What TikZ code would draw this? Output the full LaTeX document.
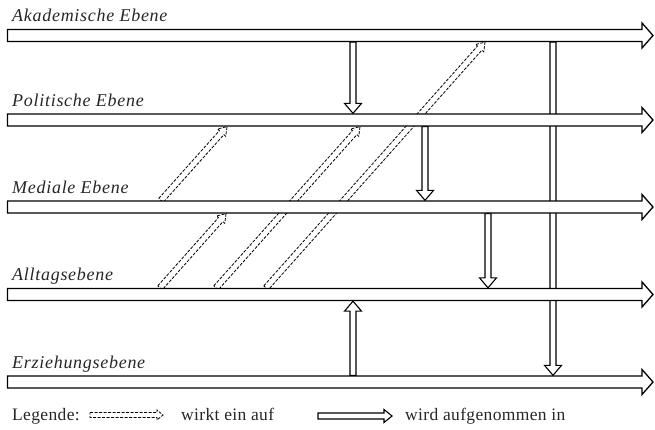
\documentclass[tikz,border=0pt]{standalone}
\usepackage{fontspec}
\setmainfont{Liberation Serif}[LetterSpace=4]
\newfontfamily\legendfont{Liberation Serif}[LetterSpace=2]
\usetikzlibrary{calc}

% Outline block arrow from #2 to #3:
% #4 half shaft width, #5 half head width, #6 head length
\newcommand\blockarrow[6][]{%
  \coordinate (bac) at ($(#3)!#6!(#2)$);
  \draw[#1] ($(#2)!#4!90:(#3)$) -- ($(bac)!#4!90:(#3)$) -- ($(bac)!#5!90:(#3)$)
    -- (#3) -- ($(bac)!#5!-90:(#3)$) -- ($(bac)!#4!-90:(#3)$)
    -- ($(#2)!#4!-90:(#3)$) -- cycle;
}

\tikzset{
  band/.style={draw=black, fill=white, line width=1.3pt, line join=miter},
  taken/.style={draw=black, fill=white, line width=1.1pt, line join=miter},
  acts/.style={draw=black, line width=0.8pt, dash pattern=on 3pt off 1.5pt},
  levellabel/.style={anchor=base west, inner sep=0pt, text=black!85, font=\fontsize{18}{21}\selectfont\itshape},
  legendtext/.style={anchor=base west, inner sep=0pt, text=black!85, font=\legendfont\fontsize{17.5}{21}\selectfont},
}

\begin{document}
\begin{tikzpicture}[x=1pt, y=-1pt]
\useasboundingbox (0,0) rectangle (655,429);

% level bands: start, tip, upper and lower edges
\foreach \n/\c in {ak/35.5, po/120, me/207, al/294.5, er/382}{
  \coordinate (\n S) at (7.5,\c);
  \coordinate (\n E) at (653,\c);
  \coordinate (\n T) at (0,\c-6.65);
  \coordinate (\n B) at (0,\c+6.65);
}

% end points of the connectors
\coordinate (v1a) at ($(akB)+(353,0)$);  \coordinate (v1b) at ($(poT)+(353,0)$);
\coordinate (v2a) at ($(poB)+(425,0)$);  \coordinate (v2b) at ($(meT)+(425,0)$);
\coordinate (v3a) at ($(meB)+(488,0)$);  \coordinate (v3b) at ($(alT)+(488,0)$);
\coordinate (v4a) at ($(erT)+(353,0)$);  \coordinate (v4b) at ($(alB)+(353,0)$);
\coordinate (v5a) at ($(akB)+(553,0)$);  \coordinate (v5b) at ($(erT)+(553,0)$);

\coordinate (d1a) at ($(meT)+(161,0)$);  \coordinate (d1b) at ($(poB)+(227,0)$);
\coordinate (d2a) at ($(alT)+(160,0)$);  \coordinate (d2b) at ($(meB)+(226,0)$);
\coordinate (d3a) at ($(alT)+(216,0)$);  \coordinate (d3b) at ($(poB)+(360,0)$);
\coordinate (d4a) at ($(alT)+(266,0)$);  \coordinate (d4b) at ($(akB)+(485,0)$);

% "wirkt ein auf" connectors
\blockarrow[acts]{d1a}{d1b}{3pt}{5.5pt}{8pt}
\blockarrow[acts]{d2a}{d2b}{3pt}{5.5pt}{8pt}
\blockarrow[acts]{d3a}{d3b}{3pt}{5.5pt}{8pt}
\blockarrow[acts]{d4a}{d4b}{3pt}{5.5pt}{8pt}

% "wird aufgenommen in" connectors
\blockarrow[taken]{v1a}{v1b}{3pt}{8.5pt}{10pt}
\blockarrow[taken]{v2a}{v2b}{3pt}{8.5pt}{10pt}
\blockarrow[taken]{v3a}{v3b}{3pt}{8.5pt}{10pt}
\blockarrow[taken]{v4a}{v4b}{3pt}{8.5pt}{10pt}
\blockarrow[taken]{v5a}{v5b}{3pt}{8.5pt}{10pt}

% the five levels
\foreach \n in {ak, po, me, al, er}{
  \blockarrow[band]{\n S}{\n E}{6pt}{12.5pt}{11pt}
}

\node[levellabel] (akL) at ($(akT)+(12,-7)$) {Akademische Ebene};
\node[levellabel] (poL) at ($(poT)+(12,-7)$) {Politische Ebene};
\node[levellabel] (meL) at ($(meT)+(12,-7)$) {Mediale Ebene};
\node[levellabel] (alL) at ($(alT)+(12,-7)$) {Alltagsebene};
\node[levellabel] (erL) at ($(erT)+(12,-7)$) {Erziehungsebene};

% legend
\node[legendtext] (lgL) at (12,420.5) {Legende:};
\coordinate (lg1a) at (90,415);  \coordinate (lg1b) at (163,415);
\blockarrow[acts]{lg1a}{lg1b}{2.5pt}{5pt}{6pt}
\node[legendtext] (lgA) at (181,420.5) {wirkt ein auf};
\coordinate (lg2a) at (318,416); \coordinate (lg2b) at (392,416);
\blockarrow[taken]{lg2a}{lg2b}{3pt}{6.5pt}{8pt}
\node[legendtext] (lgB) at (405,420.5) {wird aufgenommen in};
\end{tikzpicture}
\end{document}
